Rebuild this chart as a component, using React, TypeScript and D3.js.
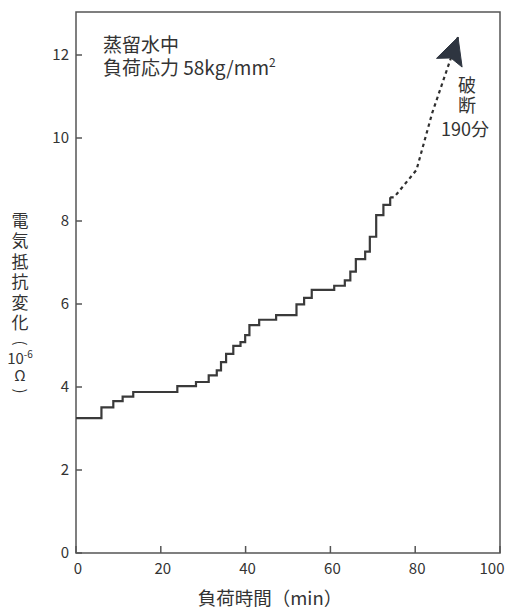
import React from "react";
import * as d3 from "d3";

// Measured resistance change (10^-6 Ω) vs. loading time (min): each entry starts a new level
const stepTimes = [0, 6.0, 8.8, 11.0, 13.5, 23.9, 28.3, 31.3, 33.2, 34.2, 35.4, 37.1, 38.8, 39.9, 40.9, 43.2, 47.2, 52.0, 53.8, 55.6, 60.9, 63.4, 64.7, 66.0, 68.2, 69.3, 70.8, 72.5, 74.1];
const stepValues = [3.25, 3.51, 3.66, 3.77, 3.88, 4.02, 4.12, 4.28, 4.4, 4.6, 4.8, 4.99, 5.08, 5.25, 5.49, 5.62, 5.73, 5.99, 6.15, 6.34, 6.44, 6.57, 6.78, 7.08, 7.26, 7.62, 8.14, 8.39, 8.57];

// Extrapolated path toward fracture (dashed, ends in an arrow)
const trendTimes = [74.1, 75.0, 80.3, 84.0, 90.1];
const trendValues = [8.57, 8.57, 9.23, 10.6, 12.43];

const xTicks = [0, 20, 40, 60, 80, 100];
const yTicks = [0, 2, 4, 6, 8, 10, 12];

const W = 506;
const H = 610;
const left = 76;
const right = 500;
const top = 12;
const bottom = 553;

const ink = "#333333";
const frame = "#555555";
const font = "'Noto Sans CJK JP', 'Noto Sans', sans-serif";

const vertical: React.CSSProperties = { writingMode: "vertical-rl", textOrientation: "upright" } as React.CSSProperties;

export default function App() {
  const x = d3.scaleLinear().domain([0, 100]).range([left, right]);
  const y = d3.scaleLinear().domain([0, 12]).range([bottom, 55]);

  const steps = stepTimes.map((t, i) => [t, stepValues[i]] as [number, number]);
  const stepPath = d3
    .line<[number, number]>()
    .x((d) => x(d[0]))
    .y((d) => y(d[1]))
    .curve(d3.curveStepAfter)(steps) as string;

  const trend = trendTimes.map((t, i) => [t, trendValues[i]] as [number, number]);
  const trendPath = d3
    .line<[number, number]>()
    .x((d) => x(d[0]))
    .y((d) => y(d[1]))(trend) as string;

  // arrowhead aligned with the last dashed segment
  const n = trend.length;
  const tipX = x(trend[n - 1][0]);
  const tipY = y(trend[n - 1][1]);
  const prevX = x(trend[n - 2][0]);
  const prevY = y(trend[n - 2][1]);
  const len = Math.hypot(tipX - prevX, tipY - prevY);
  const ux = (tipX - prevX) / len;
  const uy = (tipY - prevY) / len;
  const nx = -uy;
  const ny = ux;
  const headLen = 27;
  const halfW = 13.5;
  const notch = 22;
  const pt = (a: number, b: number) => `${tipX - ux * a + nx * b},${tipY - uy * a + ny * b}`;
  const arrowPath = `M${tipX},${tipY} L${pt(headLen, halfW)} L${pt(notch, 0)} L${pt(headLen, -halfW)} Z`;

  return (
    <svg
      width={W}
      height={H}
      style={{ position: "absolute", left: 0, top: 0, background: "#fff" }}
      fontFamily={font}
    >
      <rect x={0} y={0} width={W} height={H} fill="#fff" />
      {/* plot frame */}
      <rect x={left} y={top} width={right - left} height={bottom - top} fill="none" stroke={frame} strokeWidth={1.5} />

      {/* y ticks (inward) and labels */}
      {yTicks.map((v) => (
        <g key={`y${v}`}>
          <line x1={left} x2={left + 6} y1={y(v)} y2={y(v)} stroke={frame} strokeWidth={1.5} />
          <text x={69} y={y(v)} dy="0.36em" textAnchor="end" fontSize={15} fill={ink}>
            {v}
          </text>
        </g>
      ))}

      {/* x ticks (inward) and labels */}
      {xTicks.map((t) => (
        <g key={`x${t}`}>
          <line x1={x(t)} x2={x(t)} y1={bottom} y2={bottom - 7} stroke={frame} strokeWidth={1.5} />
          <text
            x={t === 100 ? x(t) - 8 : x(t) + 2}
            y={574}
            textAnchor="middle"
            fontSize={15}
            fill={ink}
          >
            {t}
          </text>
        </g>
      ))}

      {/* x axis title */}
      <text x={270} y={605} textAnchor="middle" fontSize={18.5} fill={ink}>
        負荷時間（min）
      </text>

      {/* y axis title, written vertically, unit below */}
      <text x={20} y={212} style={vertical} fontSize={17} letterSpacing={3.5} fill={ink}>
        電気抵抗変化
      </text>
      <text transform="translate(20,343) rotate(90)" dy="0.34em" textAnchor="middle" fontSize={15} fill={ink}>
        (
      </text>
      <text textAnchor="middle" fontSize={15} fill={ink}>
        <tspan x={20} y={364}>10</tspan>
        <tspan dy="-6" fontSize={10}>-6</tspan>
        <tspan x={20} y={381}>Ω</tspan>
      </text>
      <text transform="translate(20,391) rotate(90)" dy="0.34em" textAnchor="middle" fontSize={15} fill={ink}>
        )
      </text>

      {/* test condition note */}
      <text fontSize={19} fill={ink}>
        <tspan x={103} y={52}>蒸留水中</tspan>
        <tspan x={103} y={75}>負荷応力 58kg/mm</tspan>
        <tspan dy="-8" fontSize={12}>2</tspan>
      </text>

      {/* measured step curve */}
      <path d={stepPath} fill="none" stroke="#3a3a3a" strokeWidth={2.2} />

      {/* extrapolation to fracture */}
      <path d={trendPath} fill="none" stroke="#2f2f2f" strokeWidth={2.2} strokeDasharray="3.5,3.5" />
      <path d={arrowPath} fill="#2e3540" stroke="#2e3540" strokeWidth={1} strokeLinejoin="round" />

      {/* fracture annotation */}
      <text x={467} y={76} style={vertical} fontSize={18} letterSpacing={2.5} fill={ink}>
        破断
      </text>
      <text x={465} y={130} dy="0.36em" textAnchor="middle" fontSize={18} fill={ink}>
        190分
      </text>
    </svg>
  );
}
